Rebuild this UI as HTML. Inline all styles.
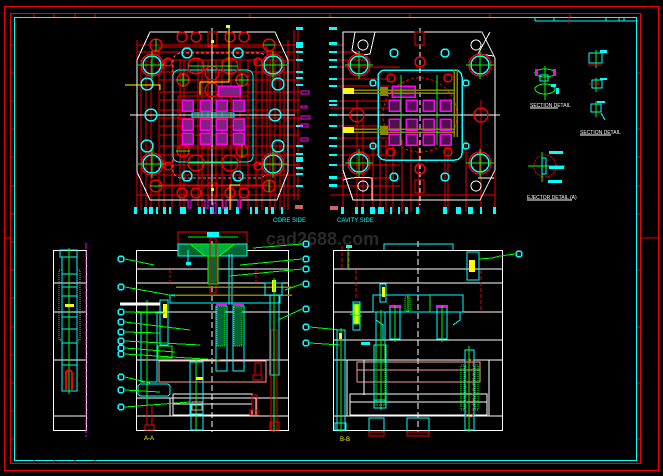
<!DOCTYPE html>
<html><head><meta charset="utf-8"><style>
html,body{margin:0;padding:0;background:#000;width:663px;height:476px;overflow:hidden}
svg{display:block}
text{font-family:"Liberation Sans",sans-serif}
</style></head><body>
<svg width="663" height="476" viewBox="0 0 663 476" xmlns="http://www.w3.org/2000/svg" shape-rendering="crispEdges">
<rect width="663" height="476" fill="#000"/>
<!-- frames -->
<rect x="4.5" y="6.5" width="654" height="464" fill="none" stroke="#e00" stroke-width="1"/>
<rect x="10.5" y="13.5" width="630" height="450" fill="none" stroke="#e00" stroke-width="1"/>
<rect x="14.5" y="17.5" width="622" height="443" fill="none" stroke="#0ff" stroke-width="1"/>
<g stroke="#e00">
<line x1="34" y1="13" x2="34" y2="17"/><line x1="54" y1="13" x2="54" y2="17"/><line x1="75" y1="13" x2="75" y2="17"/><line x1="95" y1="13" x2="95" y2="17"/>
<line x1="34" y1="460" x2="34" y2="464"/><line x1="54" y1="460" x2="54" y2="464"/><line x1="75" y1="460" x2="75" y2="464"/><line x1="95" y1="460" x2="95" y2="464"/>
<line x1="10" y1="45" x2="14" y2="45"/><line x1="10" y1="73" x2="14" y2="73"/><line x1="10" y1="101" x2="14" y2="101"/><line x1="10" y1="129" x2="14" y2="129"/><line x1="10" y1="157" x2="14" y2="157"/><line x1="10" y1="186" x2="14" y2="186"/><line x1="10" y1="214" x2="14" y2="214"/><line x1="10" y1="242" x2="14" y2="242"/><line x1="10" y1="270" x2="14" y2="270"/><line x1="10" y1="298" x2="14" y2="298"/><line x1="10" y1="327" x2="14" y2="327"/><line x1="10" y1="355" x2="14" y2="355"/><line x1="10" y1="383" x2="14" y2="383"/><line x1="10" y1="411" x2="14" y2="411"/><line x1="10" y1="439" x2="14" y2="439"/>
<line x1="637" y1="73" x2="641" y2="73"/><line x1="637" y1="129" x2="641" y2="129"/><line x1="637" y1="157" x2="641" y2="157"/><line x1="637" y1="186" x2="641" y2="186"/><line x1="637" y1="214" x2="641" y2="214"/><line x1="637" y1="270" x2="641" y2="270"/><line x1="637" y1="327" x2="641" y2="327"/><line x1="637" y1="383" x2="641" y2="383"/><line x1="637" y1="439" x2="641" y2="439"/>
<line x1="4" y1="238" x2="10" y2="238"/><line x1="641" y1="238" x2="659" y2="238"/>
<line x1="250" y1="13" x2="250" y2="17"/><line x1="330" y1="13" x2="330" y2="17"/><line x1="410" y1="13" x2="410" y2="17"/><line x1="490" y1="13" x2="490" y2="17"/><line x1="570" y1="13" x2="570" y2="17"/>
</g>
<!-- title strip top right -->
<g stroke="#0ff" fill="none"><line x1="535" y1="21" x2="636" y2="21"/><line x1="535" y1="17" x2="535" y2="21"/><line x1="554" y1="17" x2="554" y2="21"/><line x1="606" y1="17" x2="606" y2="21"/><line x1="619" y1="17" x2="619" y2="21"/><line x1="624" y1="17" x2="624" y2="21"/></g>
<line x1="569" y1="17" x2="569" y2="23" stroke="#e00"/>

<!-- ===== CORE SIDE PLATE ===== -->
<g fill="none">
<g stroke="#e00">
<line x1="137" y1="45" x2="300" y2="45"/><line x1="137" y1="52" x2="300" y2="52"/><line x1="160" y1="60" x2="300" y2="60"/><line x1="160" y1="72" x2="300" y2="72"/><line x1="160" y1="80" x2="300" y2="80"/><line x1="160" y1="92" x2="300" y2="92"/><line x1="160" y1="100" x2="300" y2="100"/><line x1="160" y1="110" x2="300" y2="110"/><line x1="160" y1="118" x2="300" y2="118"/><line x1="160" y1="126" x2="300" y2="126"/><line x1="160" y1="135" x2="300" y2="135"/><line x1="160" y1="146" x2="300" y2="146"/><line x1="160" y1="155" x2="300" y2="155"/><line x1="160" y1="165" x2="300" y2="165"/><line x1="160" y1="175" x2="300" y2="175"/><line x1="160" y1="186" x2="300" y2="186"/><line x1="137" y1="195" x2="300" y2="195"/>
<line x1="137" y1="40" x2="137" y2="210"/><line x1="141" y1="60" x2="141" y2="210"/><line x1="146" y1="60" x2="146" y2="210"/><line x1="151" y1="60" x2="151" y2="210"/><line x1="159" y1="60" x2="159" y2="210"/><line x1="164" y1="60" x2="164" y2="210"/><line x1="172" y1="60" x2="172" y2="210"/><line x1="180" y1="60" x2="180" y2="210"/><line x1="184" y1="60" x2="184" y2="210"/><line x1="198" y1="60" x2="198" y2="210"/><line x1="202" y1="60" x2="202" y2="210"/><line x1="208" y1="60" x2="208" y2="210"/><line x1="216" y1="60" x2="216" y2="210"/><line x1="222" y1="60" x2="222" y2="210"/><line x1="231" y1="60" x2="231" y2="210"/><line x1="240" y1="60" x2="240" y2="210"/><line x1="248" y1="60" x2="248" y2="210"/><line x1="256" y1="60" x2="256" y2="210"/><line x1="262" y1="60" x2="262" y2="210"/><line x1="270" y1="60" x2="270" y2="210"/><line x1="275" y1="60" x2="275" y2="210"/><line x1="280" y1="60" x2="280" y2="210"/><line x1="284" y1="60" x2="284" y2="210"/><line x1="288" y1="40" x2="288" y2="210"/>
<line x1="294" y1="30" x2="294" y2="200"/><line x1="298" y1="30" x2="298" y2="200"/>
</g>
<polygon points="150,32 275,32 288,60 288,172 277,200 150,200 137,172 137,60" stroke="#fff"/>
<rect x="173" y="53" width="94" height="125" rx="8" stroke="#f66" stroke-dasharray="3,2"/>
<rect x="173" y="70" width="80" height="92" rx="6" stroke="#0ff"/>
<rect x="159" y="47" width="108" height="138" stroke="#e00"/>
<line x1="130" y1="115" x2="295" y2="115" stroke="#fff"/>
<line x1="212" y1="28" x2="212" y2="205" stroke="#fff"/>
<!-- big circles -->
<g stroke-width="1.5">
<circle cx="152" cy="65" r="11" stroke="#e00"/><circle cx="152" cy="65" r="9" stroke="#0ff"/>
<circle cx="273" cy="65" r="11" stroke="#e00"/><circle cx="273" cy="65" r="9" stroke="#0ff"/>
<circle cx="152" cy="164" r="11" stroke="#e00"/><circle cx="152" cy="164" r="9" stroke="#0ff"/>
<circle cx="273" cy="164" r="11" stroke="#e00"/><circle cx="273" cy="164" r="9" stroke="#0ff"/>
</g>
<g stroke="#0f0"><line x1="138" y1="65" x2="166" y2="65"/><line x1="152" y1="51" x2="152" y2="79"/><line x1="259" y1="65" x2="287" y2="65"/><line x1="273" y1="51" x2="273" y2="79"/><line x1="138" y1="164" x2="166" y2="164"/><line x1="152" y1="150" x2="152" y2="178"/><line x1="259" y1="164" x2="287" y2="164"/><line x1="273" y1="150" x2="273" y2="178"/></g>
<g stroke="#0ff" stroke-width="1.5"><circle cx="147" cy="84" r="6"/><circle cx="278" cy="84" r="6"/><circle cx="151" cy="115" r="6"/><circle cx="275" cy="115" r="6"/><circle cx="147" cy="146" r="6"/><circle cx="278" cy="146" r="6"/><circle cx="187" cy="53" r="5"/><circle cx="238" cy="53" r="5"/><circle cx="187" cy="176" r="5"/><circle cx="238" cy="176" r="5"/></g>
<g stroke="#e00" stroke-width="1.5"><circle cx="156" cy="45" r="6"/><circle cx="269" cy="45" r="6"/><circle cx="156" cy="186" r="6"/><circle cx="269" cy="186" r="6"/><circle cx="182" cy="37" r="5"/><circle cx="196" cy="37" r="5"/><circle cx="230" cy="37" r="5"/><circle cx="244" cy="37" r="5"/><circle cx="182" cy="193" r="5"/><circle cx="196" cy="193" r="5"/><circle cx="230" cy="193" r="5"/><circle cx="244" cy="193" r="5"/><circle cx="196" cy="66" r="8"/><circle cx="230" cy="66" r="8"/><circle cx="212" cy="73" r="7"/><circle cx="183" cy="80" r="6"/><circle cx="242" cy="80" r="6"/><circle cx="183" cy="151" r="6"/><circle cx="242" cy="151" r="6"/><circle cx="196" cy="163" r="8"/><circle cx="230" cy="163" r="8"/><circle cx="212" cy="90" r="7"/><circle cx="168" cy="62" r="4"/><circle cx="258" cy="62" r="4"/><circle cx="168" cy="166" r="4"/><circle cx="258" cy="166" r="4"/></g>
<g stroke="#0f0"><line x1="176" y1="80" x2="190" y2="80"/><line x1="183" y1="73" x2="183" y2="87"/><line x1="235" y1="80" x2="249" y2="80"/><line x1="242" y1="73" x2="242" y2="87"/><line x1="176" y1="151" x2="190" y2="151"/><line x1="242" y1="144" x2="242" y2="158"/><line x1="188" y1="66" x2="238" y2="66"/><line x1="188" y1="163" x2="238" y2="163"/><line x1="156" y1="39" x2="156" y2="51"/><line x1="269" y1="180" x2="269" y2="192"/><line x1="150" y1="186" x2="162" y2="186"/><line x1="263" y1="45" x2="275" y2="45"/></g>
<!-- magenta cavities -->
<g stroke="#f0f" stroke-width="1.5" fill="#802080">
<rect x="182" y="100" width="11" height="11"/><rect x="200" y="100" width="11" height="11"/><rect x="216" y="100" width="11" height="11"/><rect x="233" y="100" width="11" height="11"/>
<rect x="182" y="119" width="11" height="11"/><rect x="200" y="119" width="11" height="11"/><rect x="216" y="119" width="11" height="11"/><rect x="233" y="119" width="11" height="11"/>
<rect x="182" y="133" width="11" height="11"/><rect x="200" y="133" width="11" height="11"/><rect x="216" y="133" width="11" height="11"/><rect x="233" y="133" width="11" height="11"/>
<rect x="218" y="86" width="22" height="10"/>
</g>
<rect x="192" y="113" width="42" height="4" stroke="#0ff"/>
<g stroke="#e00"><rect x="178" y="96" width="70" height="52"/></g>
<polyline points="229,25 229,82 200,82 200,95" stroke="#ff0"/>
<polyline points="125,85 160,85 160,90" stroke="#ff0"/>
<rect x="226" y="25" width="4" height="3" fill="#ff0" stroke="none"/>
<rect x="211" y="40" width="3" height="3" fill="#ff0" stroke="none"/><rect x="211" y="188" width="3" height="3" fill="#ff0" stroke="none"/>
<rect x="208" y="32" width="9" height="14" stroke="#e00"/><rect x="208" y="183" width="9" height="14" stroke="#e00"/>
<polyline points="230,210 230,185 240,185" stroke="#ff0"/>
<!-- right side cyan dims -->
<g fill="#0ff" stroke="none"><rect x="296" y="27" width="7" height="3"/><rect x="296" y="42" width="7" height="6"/><rect x="296" y="51" width="7" height="2"/><rect x="296" y="59" width="7" height="2"/><rect x="296" y="71" width="7" height="2"/><rect x="296" y="77" width="7" height="2"/><rect x="296" y="84" width="7" height="2"/><rect x="296" y="125" width="7" height="2"/><rect x="296" y="145" width="7" height="2"/><rect x="296" y="153" width="7" height="2"/><rect x="296" y="157" width="7" height="5"/><rect x="296" y="167" width="7" height="2"/><rect x="296" y="173" width="7" height="2"/><rect x="296" y="185" width="7" height="2"/></g>
<g stroke="#f0f"><rect x="301" y="91" width="8" height="3"/><rect x="301" y="106" width="6" height="2"/><rect x="301" y="116" width="9" height="3"/><rect x="301" y="124" width="7" height="3"/><rect x="301" y="138" width="7" height="3"/></g>
<!-- bottom ticks -->
<g fill="#0ff" stroke="none"><rect x="134" y="207" width="3" height="7"/><rect x="144" y="207" width="3" height="7"/><rect x="149" y="207" width="4" height="7"/><rect x="156" y="207" width="2" height="7"/><rect x="163" y="207" width="3" height="7"/><rect x="169" y="207" width="2" height="7"/><rect x="180" y="207" width="6" height="7"/><rect x="198" y="207" width="3" height="7"/><rect x="203" y="207" width="2" height="7"/><rect x="210" y="207" width="4" height="7"/><rect x="218" y="207" width="3" height="7"/><rect x="224" y="207" width="4" height="7"/><rect x="236" y="207" width="3" height="7"/><rect x="250" y="207" width="2" height="7"/><rect x="255" y="207" width="3" height="7"/><rect x="265" y="207" width="3" height="7"/><rect x="271" y="207" width="3" height="7"/><rect x="281" y="207" width="2" height="7"/></g>
<g stroke="#f0f"><rect x="188" y="200" width="3" height="8"/><rect x="205" y="200" width="3" height="8"/><rect x="213" y="203" width="3" height="10"/><rect x="223" y="200" width="3" height="8"/><rect x="238" y="200" width="3" height="8"/></g>
<rect x="295" y="205" width="8" height="4" fill="#c66" stroke="none"/>
</g>
<text x="273" y="222" font-size="6" fill="#0ff">CORE SIDE</text>

<!-- ===== CAVITY SIDE PLATE ===== -->
<g fill="none">
<g stroke="#e00">
<line x1="330" y1="45" x2="343" y2="45"/><line x1="330" y1="52" x2="360" y2="52"/><line x1="330" y1="60" x2="370" y2="60"/><line x1="330" y1="67" x2="400" y2="67"/><line x1="330" y1="79" x2="390" y2="79"/><line x1="330" y1="86" x2="390" y2="86"/><line x1="330" y1="101" x2="390" y2="101"/><line x1="330" y1="108" x2="390" y2="108"/><line x1="330" y1="115" x2="390" y2="115"/><line x1="330" y1="126" x2="390" y2="126"/><line x1="330" y1="138" x2="390" y2="138"/><line x1="330" y1="146" x2="390" y2="146"/><line x1="330" y1="155" x2="390" y2="155"/><line x1="330" y1="165" x2="400" y2="165"/><line x1="330" y1="178" x2="390" y2="178"/><line x1="330" y1="186" x2="400" y2="186"/><line x1="330" y1="195" x2="495" y2="195"/>
<line x1="343" y1="40" x2="343" y2="212"/><line x1="357" y1="100" x2="357" y2="212"/><line x1="363" y1="120" x2="363" y2="212"/><line x1="373" y1="140" x2="373" y2="212"/><line x1="380" y1="140" x2="380" y2="212"/><line x1="386" y1="140" x2="386" y2="212"/><line x1="393" y1="140" x2="393" y2="212"/><line x1="402" y1="140" x2="402" y2="212"/><line x1="411" y1="140" x2="411" y2="212"/><line x1="419" y1="140" x2="419" y2="212"/><line x1="445" y1="140" x2="445" y2="212"/><line x1="448" y1="140" x2="448" y2="212"/><line x1="466" y1="140" x2="466" y2="212"/><line x1="481" y1="100" x2="481" y2="212"/><line x1="495" y1="100" x2="495" y2="212"/>
</g>
<polygon points="343,32 482,32 495,58 495,170 480,200 353,200 343,170 343,58" stroke="#fff"/>
<path d="M355,32 L352,50 Q356,56 370,54 L375,32 M490,32 L478,54 L494,56 M343,180 Q356,176 372,178 L372,200 M478,178 L494,178" stroke="#fff"/>
<rect x="378" y="70" width="84" height="90" rx="7" stroke="#0ff" stroke-width="1.5"/>
<circle cx="420" cy="115" r="37" stroke="#e00" stroke-dasharray="3,2"/>
<line x1="336" y1="115" x2="500" y2="115" stroke="#fff"/>
<line x1="420" y1="28" x2="420" y2="205" stroke="#fff" stroke-dasharray="5,3"/>
<g stroke-width="1.5">
<circle cx="359" cy="65" r="11" stroke="#e00"/><circle cx="359" cy="65" r="9" stroke="#0ff"/>
<circle cx="480" cy="65" r="11" stroke="#e00"/><circle cx="480" cy="65" r="9" stroke="#0ff"/>
<circle cx="359" cy="163" r="11" stroke="#e00"/><circle cx="359" cy="163" r="9" stroke="#0ff"/>
<circle cx="480" cy="163" r="11" stroke="#e00"/><circle cx="480" cy="163" r="9" stroke="#0ff"/>
<circle cx="357" cy="115" r="7" stroke="#e00"/><circle cx="481" cy="115" r="7" stroke="#e00"/>
</g>
<g stroke="#0f0"><line x1="345" y1="65" x2="373" y2="65"/><line x1="359" y1="51" x2="359" y2="79"/><line x1="466" y1="65" x2="494" y2="65"/><line x1="480" y1="51" x2="480" y2="79"/><line x1="345" y1="163" x2="373" y2="163"/><line x1="359" y1="149" x2="359" y2="177"/><line x1="466" y1="163" x2="494" y2="163"/><line x1="480" y1="149" x2="480" y2="177"/></g>
<g stroke="#fff"><circle cx="363" cy="45" r="5"/><circle cx="476" cy="45" r="5"/><circle cx="363" cy="186" r="5"/><circle cx="476" cy="186" r="5"/></g>
<g stroke="#0ff" stroke-width="1.5"><circle cx="394" cy="53" r="4"/><circle cx="445" cy="53" r="4"/><circle cx="373" cy="83" r="3"/><circle cx="466" cy="83" r="3"/><circle cx="373" cy="146" r="3"/><circle cx="466" cy="146" r="3"/><circle cx="394" cy="177" r="4"/><circle cx="445" cy="177" r="4"/></g>
<g stroke="#e00" stroke-width="1.5"><circle cx="391" cy="78" r="4"/><circle cx="448" cy="78" r="4"/><circle cx="391" cy="152" r="4"/><circle cx="448" cy="152" r="4"/><circle cx="420" cy="62" r="5"/><circle cx="420" cy="169" r="5"/></g>
<rect x="415" y="32" width="9" height="13" stroke="#e00"/><rect x="415" y="180" width="9" height="13" stroke="#e00"/>
<g stroke="#f0f" stroke-width="1.5" fill="#501050">
<rect x="389" y="100" width="11" height="11"/><rect x="406" y="100" width="11" height="11"/><rect x="423" y="100" width="11" height="11"/><rect x="440" y="100" width="11" height="11"/>
<rect x="389" y="119" width="11" height="11"/><rect x="406" y="119" width="11" height="11"/><rect x="423" y="119" width="11" height="11"/><rect x="440" y="119" width="11" height="11"/>
<rect x="389" y="134" width="11" height="11"/><rect x="406" y="134" width="11" height="11"/><rect x="423" y="134" width="11" height="11"/><rect x="440" y="134" width="11" height="11"/>
<rect x="392" y="86" width="23" height="11"/>
</g>
<g stroke="#880" stroke-width="1.5"><line x1="343" y1="90" x2="455" y2="90"/><line x1="343" y1="93" x2="455" y2="93"/><line x1="343" y1="129" x2="455" y2="129"/><line x1="343" y1="132" x2="455" y2="132"/><line x1="454" y1="70" x2="454" y2="137"/><line x1="457" y1="70" x2="457" y2="137"/></g>
<rect x="380" y="87" width="8" height="9" fill="#880" stroke="none"/><rect x="380" y="126" width="8" height="9" fill="#880" stroke="none"/>
<rect x="343" y="88" width="11" height="6" fill="#ff0" stroke="none"/><rect x="343" y="127" width="11" height="6" fill="#ff0" stroke="none"/>
<g stroke="#0f0"><line x1="401" y1="75" x2="401" y2="145"/><line x1="437" y1="75" x2="437" y2="145"/></g>
<g fill="#0ff" stroke="none"><rect x="329" y="27" width="8" height="3"/><rect x="329" y="42" width="8" height="3"/><rect x="329" y="51" width="8" height="2"/><rect x="329" y="59" width="8" height="2"/><rect x="329" y="66" width="8" height="2"/><rect x="329" y="78" width="8" height="2"/><rect x="329" y="85" width="8" height="2"/><rect x="329" y="100" width="8" height="2"/><rect x="329" y="104" width="8" height="2"/><rect x="329" y="114" width="8" height="2"/><rect x="329" y="125" width="8" height="2"/><rect x="329" y="137" width="8" height="2"/><rect x="329" y="145" width="8" height="2"/><rect x="329" y="154" width="8" height="2"/><rect x="329" y="164" width="8" height="2"/><rect x="329" y="176" width="8" height="3"/><rect x="329" y="184" width="8" height="3"/>
<rect x="341" y="207" width="3" height="7"/><rect x="355" y="207" width="3" height="7"/><rect x="361" y="207" width="3" height="7"/><rect x="370" y="207" width="5" height="7"/><rect x="378" y="207" width="6" height="7"/><rect x="390" y="207" width="2" height="7"/><rect x="398" y="207" width="2" height="7"/><rect x="405" y="207" width="3" height="7"/><rect x="416" y="207" width="3" height="7"/><rect x="443" y="207" width="4" height="7"/><rect x="456" y="207" width="5" height="7"/><rect x="468" y="207" width="5" height="7"/><rect x="480" y="207" width="2" height="7"/><rect x="493" y="207" width="3" height="7"/></g>
<rect x="330" y="206" width="8" height="4" fill="#c66" stroke="none"/>
</g>
<text x="337" y="222" font-size="6" fill="#0ff">CAVITY SIDE</text>

<!-- detail views right -->
<g fill="none">
<ellipse cx="545" cy="73" rx="10" ry="4" stroke="#0f0"/><rect x="535" y="69" width="3" height="7" fill="#f0f"/><rect x="553" y="69" width="3" height="7" fill="#f0f"/>
<rect x="540" y="75" width="8" height="6" stroke="#0ff"/><ellipse cx="545" cy="89" rx="10" ry="5" stroke="#0f0"/><line x1="545" y1="66" x2="545" y2="100" stroke="#0f0"/>
<rect x="551" y="84" width="5" height="3" fill="#0ff"/><rect x="556" y="88" width="3" height="6" fill="#0ff"/>
<rect x="589" y="53" width="13" height="10" stroke="#0ff"/><line x1="596" y1="50" x2="596" y2="68" stroke="#0f0"/><rect x="600" y="50" width="7" height="3" fill="#0ff"/><line x1="588" y1="65" x2="602" y2="65" stroke="#e00"/>
<rect x="592" y="80" width="10" height="8" stroke="#0ff"/><line x1="596" y1="78" x2="596" y2="92" stroke="#0f0"/><rect x="600" y="78" width="7" height="2" fill="#0ff"/><line x1="589" y1="84" x2="600" y2="84" stroke="#e00"/>
<rect x="591" y="104" width="10" height="8" stroke="#0ff"/><line x1="596" y1="101" x2="596" y2="117" stroke="#0f0"/><rect x="597" y="101" width="8" height="2" fill="#0ff"/><line x1="601" y1="113" x2="605" y2="120" stroke="#0ff"/>
<circle cx="545" cy="166" r="11" stroke="#e00" stroke-dasharray="2,1"/>
<line x1="528" y1="166" x2="565" y2="166" stroke="#0f0"/><line x1="542" y1="152" x2="542" y2="182" stroke="#0f0"/><rect x="542" y="158" width="4" height="16" stroke="#0ff"/>
<rect x="549" y="151" width="14" height="3" fill="#0ff"/><rect x="549" y="166" width="15" height="3" fill="#0ff"/><rect x="548" y="180" width="14" height="3" fill="#0ff"/>
</g>
<g font-size="5" fill="#fff"><text x="530" y="107">SECTION DETAIL</text><text x="580" y="134">SECTION DETAIL</text><text x="527" y="199">EJECTOR DETAIL (A)</text></g>
<g stroke="#fff"><line x1="530" y1="108" x2="558" y2="108"/><line x1="580" y1="135" x2="611" y2="135"/><line x1="527" y1="200" x2="572" y2="200"/></g>

<!-- watermark -->
<text x="266" y="245" font-size="18" font-weight="bold" fill="#2a2a2a">cad2688.com</text>

<!-- ===== LEFT STRIP ===== -->
<g fill="none">
<rect x="53.5" y="250.5" width="33" height="180" stroke="#fff"/>
<line x1="53" y1="269" x2="86" y2="269"/><line x1="53" y1="283" x2="86" y2="283" stroke="#fff"/><line x1="53" y1="312" x2="86" y2="312" stroke="#fff"/><line x1="53" y1="360" x2="86" y2="360" stroke="#fff"/><line x1="53" y1="416" x2="86" y2="416" stroke="#fff"/>
<rect x="60" y="250" width="17" height="7" stroke="#0ff"/>
<rect x="62" y="257" width="15" height="134" stroke="#0ff"/>
<g stroke="#0ff"><line x1="62" y1="274" x2="77" y2="274"/><line x1="62" y1="287" x2="77" y2="287"/><line x1="62" y1="296" x2="77" y2="296"/><line x1="62" y1="317" x2="77" y2="317"/><line x1="62" y1="329" x2="77" y2="329"/><line x1="62" y1="343" x2="77" y2="343"/><line x1="62" y1="365" x2="77" y2="365"/></g>
<rect x="59" y="270" width="3" height="70" stroke="#0f0" stroke-dasharray="1,1"/><rect x="77" y="270" width="3" height="70" stroke="#0f0" stroke-dasharray="1,1"/>
<line x1="69" y1="248" x2="69" y2="394" stroke="#0f0"/>
<rect x="65" y="304" width="9" height="3" fill="#ff0" stroke="none"/>
<path d="M66,390 L66,372 Q69,368 72,372 L72,390" stroke="#e00" stroke-width="2"/>
<line x1="86" y1="243" x2="86" y2="437" stroke="#f0f" stroke-dasharray="6,2"/>
</g>

<!-- ===== SECTION A-A ===== -->
<g fill="none">
<rect x="136.5" y="250.5" width="152" height="180" stroke="#fff"/>
<g stroke="#fff"><line x1="136" y1="269" x2="288" y2="269"/><line x1="136" y1="283" x2="288" y2="283"/><line x1="136" y1="312" x2="288" y2="312"/><line x1="136" y1="360" x2="288" y2="360"/><line x1="136" y1="398" x2="288" y2="398"/><line x1="136" y1="416" x2="288" y2="416"/>
<line x1="170" y1="398" x2="170" y2="416"/><line x1="256" y1="398" x2="256" y2="416"/><rect x="173" y="394" width="79" height="21"/><line x1="173" y1="404" x2="252" y2="404"/><line x1="136" y1="304" x2="160" y2="304"/></g>
<line x1="212" y1="232" x2="212" y2="432" stroke="#fff" stroke-dasharray="6,3"/>
<polyline points="178,244 178,232 247,232 247,244" stroke="#e00"/>
<line x1="188" y1="237" x2="238" y2="237" stroke="#0f0"/>
<rect x="178" y="244" width="69" height="12" stroke="#0ff" fill="#063"/>
<path d="M190,244 L205,256 L219,256 L235,244 Z" fill="#0a4" stroke="#0f0"/>
<rect x="208" y="256" width="10" height="28" stroke="#0f0" fill="#063"/>
<rect x="210" y="238" width="6" height="55" stroke="#e00"/>
<rect x="207" y="232" width="12" height="5" fill="#0ff" stroke="none"/>
<line x1="229" y1="254" x2="229" y2="305" stroke="#0ff"/><line x1="232" y1="254" x2="232" y2="305" stroke="#0ff"/>
<line x1="188" y1="250" x2="188" y2="266" stroke="#0ff"/><rect x="186" y="262" width="5" height="3" fill="#0ff" stroke="none"/>
<rect x="170" y="295" width="110" height="8" stroke="#0ff"/>
<g stroke="#880" stroke-width="1.5"><line x1="176" y1="287" x2="292" y2="287"/><line x1="176" y1="295" x2="292" y2="295"/></g>
<rect x="265" y="283" width="17" height="12" stroke="#0ff"/><rect x="272" y="280" width="4" height="12" fill="#ff0" stroke="none"/>
<rect x="270" y="295" width="9" height="80" stroke="#0ff"/><rect x="271" y="330" width="6" height="100" stroke="#e00"/>
<line x1="274" y1="278" x2="274" y2="432" stroke="#0f0"/>
<rect x="270" y="422" width="9" height="8" stroke="#e00"/>
<rect x="216" y="306" width="11" height="65" stroke="#0ff"/><rect x="233" y="306" width="11" height="65" stroke="#0ff"/>
<rect x="217" y="306" width="8" height="40" fill="#063" stroke="#0f0" stroke-dasharray="1,1"/><rect x="234" y="306" width="8" height="40" fill="#063" stroke="#0f0" stroke-dasharray="1,1"/>
<rect x="216" y="303" width="11" height="3" fill="#f0f" stroke="none"/><rect x="233" y="303" width="11" height="3" fill="#f0f" stroke="none"/>
<rect x="159" y="361" width="107" height="21" stroke="#f99"/>
<rect x="141" y="312" width="16" height="70" stroke="#0ff"/><line x1="147" y1="300" x2="147" y2="420" stroke="#0f0"/>
<rect x="160" y="300" width="8" height="45" stroke="#0ff"/><rect x="163" y="304" width="4" height="14" fill="#ff0" stroke="none"/>
<rect x="158" y="346" width="14" height="12" stroke="#0f0"/>
<rect x="190" y="362" width="13" height="52" stroke="#0ff"/><line x1="196" y1="360" x2="196" y2="430" stroke="#0f0"/>
<rect x="191" y="405" width="12" height="25" stroke="#0ff"/><rect x="192" y="402" width="10" height="8" stroke="#f99"/>
<rect x="147" y="405" width="5" height="20" stroke="#e00"/><rect x="145" y="425" width="9" height="5" stroke="#e00"/>
<rect x="252" y="395" width="5" height="15" stroke="#e00"/><rect x="250" y="410" width="8" height="5" stroke="#e00"/>
<rect x="255" y="363" width="6" height="12" stroke="#e00"/><rect x="253" y="375" width="9" height="5" stroke="#e00"/>
<rect x="138" y="384" width="32" height="12" rx="3" stroke="#0ff"/>
<line x1="120" y1="304" x2="160" y2="304" stroke="#fff" stroke-width="3"/>
<g stroke="#e00" stroke-dasharray="3,2"><line x1="170" y1="270" x2="170" y2="283"/><line x1="256" y1="270" x2="256" y2="283"/></g>
<rect x="196" y="377" width="7" height="3" fill="#ff0" stroke="none"/>
<!-- leaders -->
<g stroke="#0f0"><line x1="125" y1="259" x2="154" y2="265"/><line x1="125" y1="287" x2="175" y2="296"/><line x1="125" y1="312" x2="165" y2="313"/><line x1="125" y1="322" x2="190" y2="330"/><line x1="125" y1="332" x2="160" y2="333"/><line x1="125" y1="341" x2="200" y2="345"/><line x1="125" y1="348" x2="175" y2="352"/><line x1="125" y1="354" x2="220" y2="360"/><line x1="125" y1="377" x2="150" y2="383"/><line x1="125" y1="390" x2="160" y2="392"/><line x1="125" y1="407" x2="190" y2="402"/>
<line x1="302" y1="244" x2="253" y2="248"/><line x1="302" y1="259" x2="240" y2="265"/><line x1="302" y1="269" x2="230" y2="276"/><line x1="302" y1="284" x2="285" y2="290"/><line x1="302" y1="309" x2="278" y2="320"/><line x1="310" y1="327" x2="340" y2="330"/><line x1="310" y1="343" x2="340" y2="345"/></g>
<g stroke="#0ff" stroke-width="1.5"><circle cx="121" cy="259" r="3"/><circle cx="121" cy="287" r="3"/><circle cx="121" cy="312" r="3"/><circle cx="121" cy="322" r="3"/><circle cx="121" cy="332" r="3"/><circle cx="121" cy="341" r="3"/><circle cx="121" cy="348" r="3"/><circle cx="121" cy="354" r="3"/><circle cx="121" cy="377" r="3"/><circle cx="121" cy="390" r="3"/><circle cx="121" cy="407" r="3"/>
<circle cx="306" cy="244" r="3"/><circle cx="306" cy="259" r="3"/><circle cx="306" cy="269" r="3"/><circle cx="306" cy="284" r="3"/><circle cx="306" cy="309" r="3"/><circle cx="306" cy="327" r="3"/><circle cx="306" cy="343" r="3"/><circle cx="519" cy="254" r="3"/></g>
</g>
<text x="144" y="440" font-size="6" fill="#ff0">A-A</text>

<!-- ===== SECTION B-B ===== -->
<g fill="none">
<rect x="333.5" y="250.5" width="169" height="180" stroke="#fff"/>
<g stroke="#fff"><line x1="333" y1="269" x2="502" y2="269"/><line x1="333" y1="283" x2="502" y2="283"/><line x1="333" y1="312" x2="502" y2="312"/><line x1="333" y1="340" x2="502" y2="340"/><line x1="333" y1="360" x2="502" y2="360"/><line x1="333" y1="416" x2="502" y2="416"/>
<line x1="347" y1="360" x2="347" y2="416"/><line x1="489" y1="360" x2="489" y2="416"/><line x1="364" y1="360" x2="364" y2="395"/><rect x="350" y="394" width="137" height="21"/><line x1="350" y1="402" x2="487" y2="402"/></g>
<line x1="418" y1="241" x2="418" y2="432" stroke="#fff" stroke-dasharray="6,3"/>
<polyline points="384,250 384,244 453,244 453,250" stroke="#0ff"/>
<rect x="373" y="295" width="90" height="17" stroke="#0ff"/>
<polyline points="376,312 376,320 383,325 383,340" stroke="#0ff"/><polyline points="460,312 460,320 453,325" stroke="#0ff"/>
<rect x="390" y="307" width="10" height="32" stroke="#0ff"/><rect x="437" y="307" width="10" height="32" stroke="#0ff"/>
<rect x="389" y="305" width="12" height="3" fill="#f0f" stroke="none"/><rect x="436" y="305" width="12" height="3" fill="#f0f" stroke="none"/>
<line x1="395" y1="305" x2="395" y2="342" stroke="#0f0"/><line x1="442" y1="305" x2="442" y2="342" stroke="#0f0"/>
<rect x="357" y="362" width="123" height="20" stroke="#f99"/><line x1="357" y1="370" x2="480" y2="370" stroke="#f99"/>
<rect x="337" y="330" width="8" height="100" stroke="#0ff"/><rect x="335" y="423" width="11" height="7" stroke="#0ff"/><line x1="341" y1="328" x2="341" y2="432" stroke="#0f0"/><rect x="339" y="333" width="3" height="6" fill="#ff0" stroke="none"/>
<rect x="376" y="312" width="9" height="50" stroke="#0ff"/><rect x="374" y="345" width="12" height="63" stroke="#0ff"/><rect x="376" y="345" width="9" height="60" stroke="#0f0" stroke-dasharray="1,1"/>
<line x1="381" y1="310" x2="381" y2="410" stroke="#0f0"/><rect x="374" y="400" width="12" height="8" stroke="#0ff"/>
<rect x="380" y="284" width="6" height="18" stroke="#0ff"/><rect x="382" y="287" width="3" height="10" fill="#ff0" stroke="none"/>
<rect x="353" y="302" width="7" height="28" stroke="#0ff"/><rect x="354" y="304" width="5" height="20" fill="#ff0" stroke="#0f0"/>
<rect x="465" y="350" width="9" height="80" stroke="#0ff"/><rect x="466" y="360" width="7" height="57" stroke="#e00" stroke-dasharray="3,2"/><line x1="469" y1="346" x2="469" y2="432" stroke="#0f0"/>
<rect x="461" y="365" width="3" height="45" stroke="#0f0" stroke-dasharray="1,1"/><rect x="475" y="365" width="3" height="45" stroke="#0f0" stroke-dasharray="1,1"/>
<rect x="467" y="252" width="12" height="28" stroke="#0ff"/><rect x="469" y="260" width="6" height="12" fill="#ff0" stroke="none"/>
<polyline points="479,259 492,258 500,256 515,254" stroke="#0f0"/>
<g stroke="#e00" stroke-dasharray="4,2"><line x1="342" y1="246" x2="342" y2="270"/><line x1="349" y1="246" x2="349" y2="270"/><line x1="356" y1="270" x2="356" y2="300"/><line x1="481" y1="270" x2="481" y2="312"/></g>
<line x1="348" y1="246" x2="348" y2="270" stroke="#0f0"/>
<rect x="346" y="245" width="6" height="3" fill="#0ff" stroke="none"/>
<rect x="369" y="418" width="15" height="14" stroke="#0ff"/><rect x="369" y="432" width="15" height="4" stroke="#e00"/>
<rect x="407" y="418" width="22" height="14" stroke="#0ff"/><rect x="407" y="432" width="22" height="4" stroke="#e00"/>
<rect x="361" y="342" width="9" height="3" fill="#0ff" stroke="none"/>
<g stroke="#0f0"><line x1="408" y1="295" x2="408" y2="312"/><line x1="430" y1="295" x2="430" y2="312"/><line x1="350" y1="314" x2="362" y2="316"/></g>
<rect x="405" y="297" width="5" height="14" stroke="#0f0" stroke-dasharray="1,1"/>
</g>
<text x="340" y="441" font-size="6" fill="#ff0">B-B</text>
</svg>
</body></html>
